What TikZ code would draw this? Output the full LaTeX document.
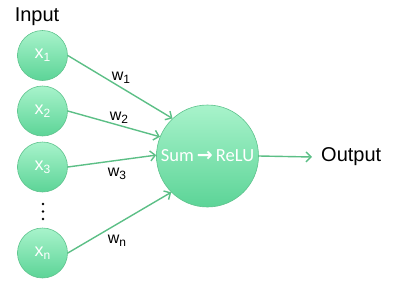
\documentclass[tikz,border=0pt]{standalone}
\usepackage{fontspec}
\setmainfont{Liberation Sans}
\newfontfamily\calibf{Carlito}
\newfontfamily\arrowf{DejaVu Sans}
\usetikzlibrary{arrows.meta}
\definecolor{nodetop}{HTML}{A8F3CB}
\definecolor{nodebot}{HTML}{5CD497}
\definecolor{nodeedge}{HTML}{5EC38D}
\definecolor{arrowc}{HTML}{5CBF86}
\tikzset{
  inputnode/.style={circle, minimum size=50pt, inner sep=0pt, draw=nodeedge, line width=0.6pt,
    top color=nodetop, bottom color=nodebot, text=white, font=\fontsize{18}{20}\selectfont},
  neuron/.style={circle, minimum size=102pt, inner sep=0pt, draw=nodeedge, line width=0.6pt,
    top color=nodetop, bottom color=nodebot, text=white, font=\calibf\fontsize{18.5}{20}\selectfont},
  conn/.style={draw=arrowc, line width=1.4pt, -{Straight Barb[length=5pt,width=10pt,line width=1.4pt]}},
  wlabel/.style={font=\fontsize{16}{18}\selectfont, text=black, inner sep=0pt},
  title/.style={font=\fontsize{20}{24}\selectfont, text=black, inner sep=0pt}
}
\newcommand{\lbl}[2]{#1\raisebox{-0.35ex}{\fontsize{12}{13}\selectfont #2}}
\begin{document}
\begin{tikzpicture}[x=1pt,y=-1pt]
\useasboundingbox (0,0) rectangle (400,295);
\node[title] (input) at (37,17) {Input};
\node[inputnode] (x1) at (42.5,55.5) {\lbl{x}{1}};
\node[inputnode] (x2) at (42.5,111) {\lbl{x}{2}};
\node[inputnode] (x3) at (42.5,167) {\lbl{x}{3}};
\node[inputnode] (xn) at (42.5,253) {\lbl{x}{n}};
\foreach \yy in {204,211.5,219}{
  \fill (43,\yy) circle (1.4pt);
}
\node[neuron] (sum) at (207.5,156) {Sum\,{\arrowf\bfseries\fontsize{19}{20}\selectfont →}\,ReLU};
\node[title, anchor=west] (output) at (321,157) {Output};
\draw[conn] (x1.east) -- (sum.133);
\draw[conn] (x2.east) -- (sum.158);
\draw[conn] (x3.east) -- (sum.179);
\draw[conn] (xn.east) -- (sum.225);
\draw[conn] (sum.east) -- ([xshift=-9pt]output.west);
\node[wlabel] (w1) at (121,78) {\lbl{w}{1}};
\node[wlabel] (w2) at (119,118) {\lbl{w}{2}};
\node[wlabel] (w3) at (117,174) {\lbl{w}{3}};
\node[wlabel] (wn) at (117,241) {\lbl{w}{n}};
\end{tikzpicture}
\end{document}
